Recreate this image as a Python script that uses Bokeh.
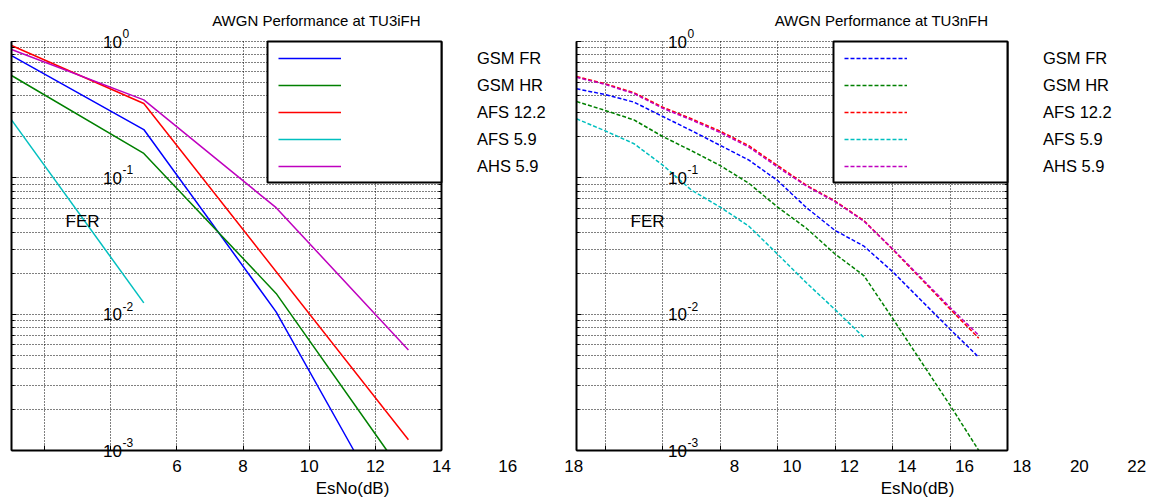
from bokeh.plotting import figure
from bokeh.models import (FixedTicker, Label, Legend, LegendItem, BoxAnnotation,
                          LogAxis, LinearAxis, Range1d, CustomJSTickFormatter, Grid)
from bokeh.embed import file_html
from bokeh.resources import INLINE

FONT = "Liberation Sans"

# ---------------- data ----------------
ifh_title = "AWGN Performance at TU3iFH"
nfh_title = "AWGN Performance at TU3nFH"
x_label = "EsNo(dB)"
y_label = "FER"

series_names = ["GSM FR", "GSM HR", "AFS 12.2", "AFS 5.9", "AHS 5.9"]
series_colors = ["#0000FF", "#008000", "#FF0000", "#00BFBF", "#BF00BF"]

# left panel (TU3iFH), solid lines
ifh_gsm_fr_x = [1, 5, 9, 11.35]
ifh_gsm_fr_fer = [0.789, 0.226, 0.0104, 0.0010]
ifh_gsm_hr_x = [1, 5, 9, 12.35]
ifh_gsm_hr_fer = [0.563, 0.151, 0.0142, 0.0010]
ifh_afs122_x = [1, 5, 13]
ifh_afs122_fer = [0.935, 0.351, 0.0012]
ifh_afs59_x = [1, 5]
ifh_afs59_fer = [0.266, 0.0121]
ifh_ahs59_x = [1, 5, 9, 13]
ifh_ahs59_fer = [0.873, 0.373, 0.0604, 0.00547]

# right panel (TU3nFH), dashed lines
nfh_x = [1, 2, 3, 4, 5, 6, 7, 8, 9, 10, 11, 12, 13, 14, 15]
nfh_gsm_fr_fer = [0.450, 0.408, 0.359, 0.282, 0.222, 0.173, 0.135, 0.0955,
                  0.0605, 0.0411, 0.0316, 0.0205, 0.0126, 0.00776, 0.00483]
nfh_gsm_hr_fer = [0.363, 0.312, 0.266, 0.201, 0.158, 0.123, 0.0912, 0.0610,
                  0.0427, 0.0276, 0.0192, 0.00933, 0.00447, 0.00215, 0.0010]
nfh_afs122_fer = [0.553, 0.490, 0.421, 0.330, 0.271, 0.220, 0.172, 0.123,
                  0.0883, 0.0675, 0.0486, 0.0299, 0.0181, 0.0109, 0.00667]
nfh_afs59_x = [1, 2, 3, 4, 5, 6, 7, 8, 9, 10, 11]
nfh_afs59_fer = [0.271, 0.221, 0.178, 0.124, 0.0813, 0.0610, 0.0442, 0.0275,
                 0.0170, 0.0108, 0.00676]
nfh_ahs59_fer = [0.547, 0.484, 0.415, 0.324, 0.266, 0.215, 0.168, 0.120,
                 0.0871, 0.0668, 0.0481, 0.0302, 0.0184, 0.0112, 0.0070]

ifh_grid_x = [2, 4, 6, 8, 10, 12, 14]
nfh_grid_x = [2, 4, 6, 8, 10, 12, 14, 16]
ifh_tick_values = [6, 8, 10, 12, 14, 16, 18]
ifh_tick_labels = ["6", "8", "10", "12", "14", "16", "18"]
nfh_tick_values = [6.5, 8.5, 10.5, 12.5, 14.5, 16.5, 18.5, 20.5]
nfh_tick_labels = ["8", "10", "12", "14", "16", "18", "20", "22"]

decades = [1.0, 0.1, 0.01, 0.001]
decade_exponents = ["0", "-1", "-2", "-3"]
minor_y = [m * d for d in [0.1, 0.01, 0.001] for m in range(1, 10)] + [1.0]

ifh_series = [(ifh_gsm_fr_x, ifh_gsm_fr_fer), (ifh_gsm_hr_x, ifh_gsm_hr_fer),
              (ifh_afs122_x, ifh_afs122_fer), (ifh_afs59_x, ifh_afs59_fer),
              (ifh_ahs59_x, ifh_ahs59_fer)]
nfh_series = [(nfh_x, nfh_gsm_fr_fer), (nfh_x, nfh_gsm_hr_fer),
              (nfh_x, nfh_afs122_fer), (nfh_afs59_x, nfh_afs59_fer),
              (nfh_x, nfh_ahs59_fer)]

# ---------------- layout geometry (pixels) ----------------
W, H = 1152, 500
BOX_TOP, BOX_H = 41, 409
Y0, Y1 = 1e-3, 1.0
LBOX = dict(px=11, w=430, x0=1, x1=14)
RBOX = dict(px=576, w=431, x0=1, x1=16)

dec_per_px = 3.0 / BOX_H
y_range = Range1d(10 ** (-3 - (H - BOX_TOP - BOX_H) * dec_per_px),
                  10 ** (BOX_TOP * dec_per_px))


def x_range_for(box):
    k = (box["x1"] - box["x0"]) / box["w"]
    return Range1d(box["x0"] - box["px"] * k, box["x0"] + (W - box["px"]) * k)


p = figure(width=W, height=H, x_range=x_range_for(LBOX), y_range=y_range,
           y_axis_type="log", x_axis_location=None, y_axis_location=None,
           min_border=0, outline_line_color=None, toolbar_location=None,
           output_backend="svg", background_fill_color="white",
           border_fill_color="white")
p.title.text = ""
p.grid.visible = False
p.extra_x_ranges = {"r": x_range_for(RBOX)}

HAS_CROSS = "cross_bounds" in Grid.properties()


def lab(kw, x, y, text, size, align="center", xo=0, yo=0):
    p.add_layout(Label(x=x, y=y, text=text, x_offset=xo, y_offset=yo,
                       text_font=FONT, text_font_size=size, text_color="black",
                       text_align=align, text_baseline="middle", **kw))


def panel(rn, box, series, dash, grid_x, tick_vals, tick_labels, box_left,
          title, leg_x):
    kw = {} if rn is None else {"x_range_name": rn}
    x0, x1 = box["x0"], box["x1"]

    # dotted grid, limited to the panel box
    if HAS_CROSS:
        gx = Grid(dimension=0, ticker=FixedTicker(ticks=grid_x),
                  cross_bounds=(Y0, Y1), **kw)
        gy = Grid(dimension=1, ticker=FixedTicker(ticks=minor_y),
                  cross_bounds=(x0, x1), **kw)
        for g in (gx, gy):
            g.grid_line_color = "black"
            g.grid_line_dash = "1 2"
            g.grid_line_width = 1
            p.add_layout(g)
    else:
        p.segment(x0=grid_x, y0=[Y0] * len(grid_x), x1=grid_x,
                  y1=[Y1] * len(grid_x), line_color="black", line_dash="1 2",
                  line_width=1, level="underlay", **kw)
        p.segment(x0=[x0] * len(minor_y), y0=minor_y, x1=[x1] * len(minor_y),
                  y1=minor_y, line_color="black", line_dash="1 2",
                  line_width=1, level="underlay", **kw)

    # box edges (left, bottom, right) as bounded axes
    bottom = LinearAxis(fixed_location=Y0, bounds=(x0, x1),
                        ticker=FixedTicker(ticks=grid_x),
                        formatter=CustomJSTickFormatter(code="return ''"), **kw)
    bottom.minor_tick_line_color = None
    p.add_layout(bottom, "below")
    lft = LogAxis(fixed_location=x0, bounds=(Y0, Y1),
                  ticker=FixedTicker(ticks=decades, minor_ticks=minor_y),
                  formatter=CustomJSTickFormatter(code="return ''"), **kw)
    rgt = LogAxis(fixed_location=x1, bounds=(Y0, Y1),
                  ticker=FixedTicker(ticks=decades, minor_ticks=minor_y),
                  formatter=CustomJSTickFormatter(code="return ''"), **kw)
    p.add_layout(lft, "left")
    p.add_layout(rgt, "right")
    for a in (bottom, lft, rgt):
        a.axis_line_width = 2
        a.axis_line_color = "black"
        a.major_tick_in = 5
        a.major_tick_out = 0
        a.minor_tick_in = 3
        a.minor_tick_out = 0
        a.major_label_standoff = 0

    items = []
    for (xs, ys), name, col in zip(series, series_names, series_colors):
        r = p.line(xs, ys, line_color=col, line_width=1.5, line_dash=dash, **kw)
        items.append(LegendItem(label=name, renderers=[r]))

    # legend box (white, black border) with the legend entries
    p.add_layout(BoxAnnotation(left=box_left, right=x1, top=Y1, bottom=0.0924,
                               fill_color="white", fill_alpha=1,
                               line_color="black", line_width=2, line_alpha=1,
                               **kw))
    leg = Legend(items=items, location=(leg_x, 324), orientation="vertical",
                 glyph_width=63, glyph_height=20, label_height=20,
                 label_standoff=136, spacing=7, padding=0, margin=0,
                 border_line_color=None, background_fill_alpha=0,
                 label_text_font=FONT, label_text_font_size="16.5px",
                 label_text_color="black")
    p.add_layout(leg)

    lab(kw, x0, Y1, title, "15px", xo=305, yo=21)
    lab(kw, x0, Y0, x_label, "17px", xo=341, yo=-38)
    lab(kw, x0, 0.1, y_label, "17px", align="left", xo=54, yo=-44)

    for d, e in zip(decades, decade_exponents):
        lab(kw, x0, d, "10", "17px", xo=101)
        lab(kw, x0, d, e, "12px", align="left", xo=111, yo=8)

    for v, t in zip(tick_vals, tick_labels):
        lab(kw, v, Y0, t, "17px", yo=-15)


panel(None, LBOX, ifh_series, "solid", ifh_grid_x, ifh_tick_values,
      ifh_tick_labels, 8.74, ifh_title, 278)
panel("r", RBOX, nfh_series, "4 2", nfh_grid_x, nfh_tick_values,
      nfh_tick_labels, 9.944, nfh_title, 844)

open("out.html", "w").write(file_html(p, INLINE))
